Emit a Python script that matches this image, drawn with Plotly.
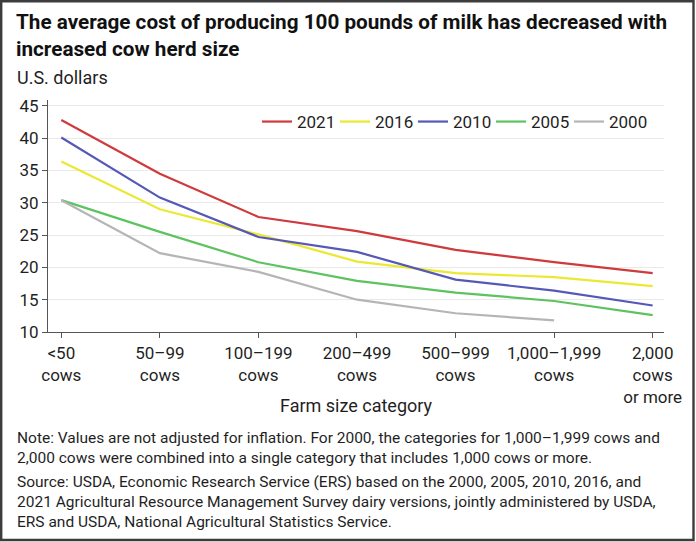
import plotly.graph_objects as go

categories = ["<50 cows", "50-99 cows", "100-199 cows", "200-499 cows",
              "500-999 cows", "1,000-1,999 cows", "2,000 cows or more"]
tick_labels = ["&lt;50<br>cows", "50–99<br>cows", "100–199<br>cows", "200–499<br>cows",
               "500–999<br>cows", "1,000–1,999<br>cows", "2,000<br>cows<br>or more"]

cost_2021 = [42.8, 34.5, 27.8, 25.6, 22.7, 20.8, 19.1]
cost_2016 = [36.4, 29.0, 25.1, 20.9, 19.1, 18.5, 17.1]
cost_2010 = [40.1, 30.8, 24.7, 22.4, 18.1, 16.4, 14.1]
cost_2005 = [30.4, 25.5, 20.8, 17.9, 16.1, 14.8, 12.6]
cost_2000 = [30.4, 22.2, 19.3, 15.0, 12.9, 11.8, None]

series_names = ["2021", "2016", "2010", "2005", "2000"]
series_values = [cost_2021, cost_2016, cost_2010, cost_2005, cost_2000]
series_colors = ["#cf3a3d", "#ece831", "#5558b6", "#5dc35f", "#b5b5b5"]

y_ticks = [10, 15, 20, 25, 30, 35, 40, 45]

FONT = "Roboto, 'Noto Sans', sans-serif"
TXT = "#1f1f1f"

W, H = 696, 542
ML, MR, MT, MB = 48, 32, 100, 210
PW, PH = W - ML - MR, H - MT - MB


def px_x(px):
    return (px - ML) / PW


def px_y(py):
    return (H - MB - py) / PH


fig = go.Figure()
for name, vals, col in zip(series_names, series_values, series_colors):
    fig.add_trace(go.Scatter(x=categories, y=vals, name=name, mode="lines",
                             line=dict(color=col, width=2.2), connectgaps=False))

fig.update_layout(
    width=W, height=H,
    margin=dict(l=ML, r=MR, t=MT, b=MB),
    paper_bgcolor="white", plot_bgcolor="white",
    font=dict(family=FONT, size=17, color=TXT),
    showlegend=True,
    legend=dict(orientation="h", x=px_x(257), xanchor="left", y=px_y(122), yanchor="middle",
                font=dict(size=17, color=TXT), itemwidth=30, entrywidth=33,
                entrywidthmode="pixels", bgcolor="rgba(0,0,0,0)", traceorder="normal"),
    xaxis=dict(type="category", categoryorder="array", categoryarray=categories,
               tickvals=categories, ticktext=tick_labels,
               range=[-0.135, 6.115], showgrid=False, zeroline=False,
               showline=True, linecolor="#555", linewidth=1.2,
               ticks="outside", ticklen=5, tickcolor="#555",
               tickfont=dict(size=17, color=TXT)),
    yaxis=dict(range=[10, 45.9], tickvals=y_ticks, showgrid=True, gridcolor="#e9e9e9",
               gridwidth=1, zeroline=False, showline=True, linecolor="#555", linewidth=1.2,
               ticks="outside", ticklen=5, tickcolor="#555",
               tickfont=dict(size=17, color=TXT)),
)

fig.add_annotation(text="<b>The average cost of producing 100 pounds of milk has decreased with<br>increased cow herd size</b>",
                   xref="paper", yref="paper", x=px_x(14), y=px_y(36), xanchor="left", yanchor="middle",
                   align="left", showarrow=False, font=dict(size=20.7, color="#111"))
fig.add_annotation(text="U.S. dollars", xref="paper", yref="paper", x=px_x(15), y=px_y(77),
                   xanchor="left", yanchor="middle", align="left", showarrow=False,
                   font=dict(size=18, color=TXT))
fig.add_annotation(text="Farm size category", xref="paper", yref="paper", x=0.5, y=px_y(405),
                   xanchor="center", yanchor="middle", showarrow=False,
                   font=dict(size=18, color=TXT))
fig.add_annotation(text="Note: Values are not adjusted for inflation. For 2000, the categories for 1,000–1,999 cows and<br>"
                        "2,000 cows were combined into a single category that includes 1,000 cows or more.",
                   xref="paper", yref="paper", x=px_x(15), y=px_y(447.5), xanchor="left", yanchor="middle",
                   align="left", showarrow=False, font=dict(size=15.5, color=TXT))
fig.add_annotation(text="Source: USDA, Economic Research Service (ERS) based on the 2000, 2005, 2010, 2016, and<br>"
                        "2021 Agricultural Resource Management Survey dairy versions, jointly administered by USDA,<br>"
                        "ERS and USDA, National Agricultural Statistics Service.",
                   xref="paper", yref="paper", x=px_x(15), y=px_y(502), xanchor="left", yanchor="middle",
                   align="left", showarrow=False, font=dict(size=15.5, color=TXT))

fig.add_shape(type="rect", xref="paper", yref="paper",
              x0=px_x(1.2), x1=px_x(693.5), y0=px_y(540), y1=px_y(1.2),
              line=dict(color="#3c3c3c", width=2.4), fillcolor="rgba(0,0,0,0)", layer="above")

fig.write_html("out.html", config={"displayModeBar": False},
               post_script="document.body.style.margin='0px';")
